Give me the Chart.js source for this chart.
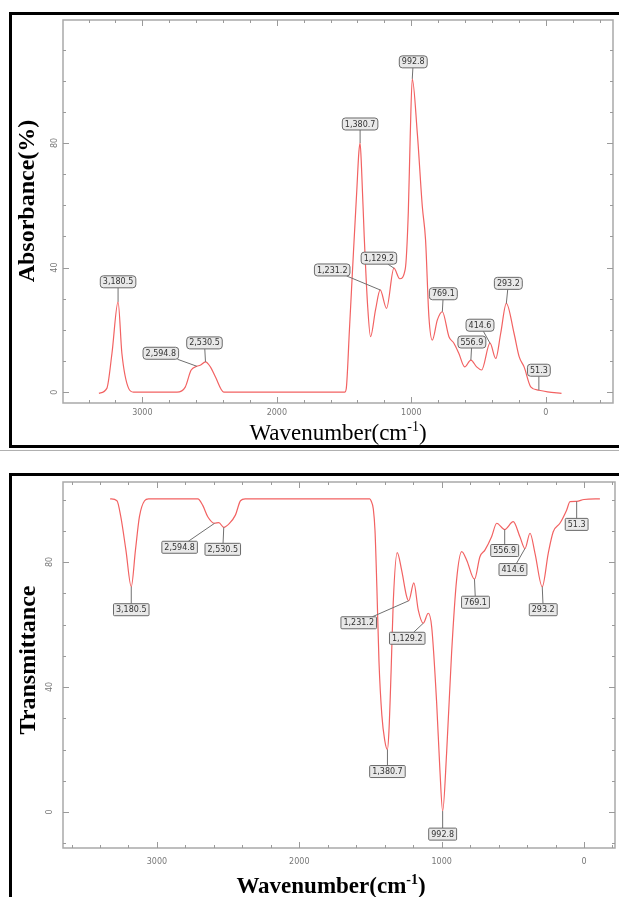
<!DOCTYPE html>
<html>
<head>
<meta charset="utf-8">
<script src="https://cdn.jsdelivr.net/npm/chart.js@4.4.0/dist/chart.umd.min.js"></script>
<style>
  html, body { margin: 0; padding: 0; background: #fff; width: 619px; height: 897px; overflow: hidden; position: relative; }
  .panel { position: absolute; border: 3px solid #000; box-sizing: content-box; }
  #topPanel { left: 9px; top: 12px; width: 640px; height: 430px; }
  #botPanel { left: 9px; top: 473px; width: 640px; height: 440px; }
  #sep { position: absolute; left: 0; top: 450px; width: 619px; height: 1px; background: #b0b0b0; }
  canvas { position: absolute; }
  #absChart { left: 12px; top: 15px; }
  #transChart { left: 12px; top: 476px; }
</style>
</head>
<body>
<div id="topPanel" class="panel"></div>
<div id="sep"></div>
<div id="botPanel" class="panel"></div>
<canvas id="absChart" width="607" height="430"></canvas>
<canvas id="transChart" width="607" height="421"></canvas>
<script>
// tick labels
const xTickValues = [3000, 2000, 1000, 0];
const yTickValues = [0, 40, 80];

// absorbance spectrum (wavenumber cm-1, %)
const absWavenumber = [3323, 3264, 3226, 3180.5, 3152, 3102, 3066, 2742, 2681, 2638, 2594.8, 2570,
  2530.5, 2494, 2457, 2395, 1495, 1484, 1460, 1430, 1405, 1390, 1380.7, 1370, 1350, 1325, 1303,
  1266, 1231.2, 1184, 1129.2, 1086, 1045, 1022, 1008, 992.8, 955, 918, 894, 869, 844, 806, 769.1,
  720, 683, 646, 603, 556.9, 514, 477, 414.6, 372, 335, 293.2, 236, 198, 161, 112, 51.3, -13, -117];
const absValue = [-0.4, 1.2, 12.4, 29.0, 12.4, 1.2, 0, 0, 1.6, 7.0, 8.3, 8.6,
  9.7, 8.1, 4.9, 0, 0, 1, 20, 45, 65, 77, 80, 72, 50, 28, 17.8,
  26.4, 32.8, 26.9, 39.8, 36.4, 39.5, 58, 82, 100.6, 83, 59.6, 48.9, 24.2, 16.7, 23.2, 25.8,
  17.8, 15.7, 12.4, 8.1, 10.3, 8.1, 7.1, 15.7, 10.8, 18.9, 28.5, 18.9, 11.4, 8.1, 1.7, 0.6, 0.1, -0.4];

// transmittance spectrum
const transWavenumber = [3329, 3281, 3254, 3218, 3180.5, 3151, 3123, 3087, 3059, 2713, 2679, 2643,
  2594.8, 2565, 2530.5, 2490, 2449, 2413, 2380, 1505, 1495, 1480, 1468, 1455, 1440, 1420, 1400,
  1380.7, 1370, 1355, 1340, 1312, 1281, 1246, 1231.2, 1195, 1164, 1129.2, 1094, 1070, 1035, 1012,
  992.8, 965, 930, 895, 859, 824, 769.1, 731, 696, 649, 613, 556.9, 497, 450, 414.6, 379, 344,
  293.2, 251, 216, 169, 122, 98, 51.3, 0, -112];
const transValue = [100.2, 99.6, 94.5, 83.8, 72.1, 83.8, 94.5, 99.6, 100.2, 100.2, 98.2, 94.5,
  92.4, 92.6, 91.1, 92.4, 95.0, 99.6, 100.2, 100.2, 99.5, 97, 90, 72, 48, 31, 23,
  20, 26, 45, 67, 83, 77.4, 69, 67.6, 73.3, 64.6, 60.4, 63.6, 59.3, 35, 13.4,
  0.3, 18.9, 50.9, 74.2, 83.3, 80.6, 74.5, 81.7, 83.8, 88.1, 92.4, 90.4, 92.9, 88.1, 84.3, 89.2, 82.8,
  72.1, 82.8, 89.7, 92.4, 96.6, 99.3, 99.4, 100, 100.2];

// peak labels
const peakWavenumbers = [3180.5, 2594.8, 2530.5, 1380.7, 1231.2, 1129.2, 992.8, 769.1, 556.9, 414.6, 293.2, 51.3];
const peakText = ['3,180.5', '2,594.8', '2,530.5', '1,380.7', '1,231.2', '1,129.2', '992.8', '769.1', '556.9', '414.6', '293.2', '51.3'];

// label box offsets from the peak, in pixels
const absLabelOffsets = [[0, -20], [-36, -13], [-1, -19], [0, -19], [-48, -20], [-15, -10],
  [1, -17], [1, -18], [1, -18], [-10, -18], [2, -20], [0, -20]];
const transLabelOffsets = [[0, 23], [-35, 24], [-1, 22], [0, 22], [-50, 22], [-16, 15],
  [0, 23], [1, 23], [0, 21], [-12, 21], [1, 23], [0, 23]];

const LINE_RED = 'rgb(242, 98, 98)';

function drawXTitle(ctx, cx, base, size, bold) {
  const w = bold ? 'bold ' : '';
  const main = w + size + 'px "Liberation Serif"';
  const sup = w + Math.round(size * 0.6) + 'px "Liberation Serif"';
  ctx.font = main;
  const a = ctx.measureText('Wavenumber(cm').width;
  const c = ctx.measureText(')').width;
  ctx.font = sup;
  const b = ctx.measureText('-1').width;
  let x = cx - (a + b + c) / 2;
  ctx.fillStyle = '#000';
  ctx.textAlign = 'left';
  ctx.textBaseline = 'alphabetic';
  ctx.font = main;
  ctx.fillText('Wavenumber(cm', x, base);
  ctx.font = sup;
  ctx.fillText('-1', x + a, base - size * 0.38);
  ctx.font = main;
  ctx.fillText(')', x + a + b, base);
}

const irFrame = {
  id: 'irFrame',
  afterDraw(chart, args, o) {
    const { ctx, chartArea: a, scales: { x, y } } = chart;
    ctx.save();
    // plot frame
    ctx.strokeStyle = '#a9a9a9';
    ctx.lineWidth = 1.5;
    ctx.strokeRect(a.left, a.top, a.right - a.left, a.bottom - a.top);

    // inward ticks on all sides
    ctx.strokeStyle = '#9a9a9a';
    ctx.lineWidth = 1;
    ctx.beginPath();
    for (let w = Math.ceil(x.min / 200) * 200; w <= x.max; w += 200) {
      const px = Math.round(x.getPixelForValue(w)) + 0.5;
      const len = w % 1000 === 0 ? 6 : 3;
      ctx.moveTo(px, a.bottom); ctx.lineTo(px, a.bottom - len);
      ctx.moveTo(px, a.top); ctx.lineTo(px, a.top + len);
    }
    for (let v = Math.ceil(y.min / 10) * 10; v <= y.max; v += 10) {
      const py = Math.round(y.getPixelForValue(v)) + 0.5;
      const len = v % 40 === 0 ? 6 : 3;
      ctx.moveTo(a.left, py); ctx.lineTo(a.left + len, py);
      ctx.moveTo(a.right, py); ctx.lineTo(a.right - len, py);
    }
    ctx.stroke();

    // rotated y tick labels
    ctx.fillStyle = '#777';
    ctx.font = '8px "DejaVu Sans"';
    ctx.textAlign = 'center';
    ctx.textBaseline = 'middle';
    yTickValues.forEach(v => {
      const py = y.getPixelForValue(v);
      ctx.save();
      ctx.translate(o.yLabelX, py);
      ctx.rotate(-Math.PI / 2);
      ctx.fillText(String(v), 0, 0);
      ctx.restore();
    });

    // y title
    ctx.save();
    ctx.translate(o.yTitleX, o.yTitleY);
    ctx.rotate(-Math.PI / 2);
    ctx.fillStyle = '#000';
    ctx.font = 'bold 24px "Liberation Serif"';
    ctx.textAlign = 'center';
    ctx.textBaseline = 'middle';
    ctx.fillText(o.yTitle, 0, 0);
    ctx.restore();

    // x title
    drawXTitle(ctx, o.xTitleX, o.xTitleBase, 23, o.xTitleBold);

    // peak labels
    const ws = chart.data.datasets[0].data;
    ctx.font = '8px "DejaVu Sans"';
    peakWavenumbers.forEach((w, i) => {
      const pt = ws.find(p => p.x === w);
      if (!pt) return;
      const tx = x.getPixelForValue(pt.x);
      const ty = y.getPixelForValue(pt.y);
      const [dx, dy] = o.offsets[i];
      const bx = tx + dx, by = ty + dy;
      const hw = ctx.measureText(peakText[i]).width / 2 + 2.5;
      const hh = 6;
      // leader
      const vx = tx - bx, vy = ty - by;
      const t = Math.min(vx ? hw / Math.abs(vx) : Infinity, vy ? hh / Math.abs(vy) : Infinity);
      ctx.strokeStyle = '#707070';
      ctx.lineWidth = 1;
      ctx.beginPath();
      ctx.moveTo(bx + vx * t, by + vy * t);
      ctx.lineTo(tx, ty);
      ctx.stroke();
      // box
      ctx.beginPath();
      ctx.roundRect(bx - hw, by - hh, hw * 2, hh * 2, o.radius);
      ctx.fillStyle = '#e9e9e9';
      ctx.fill();
      ctx.strokeStyle = '#6a6a6a';
      ctx.stroke();
      ctx.fillStyle = '#333';
      ctx.textAlign = 'center';
      ctx.textBaseline = 'middle';
      ctx.fillText(peakText[i], bx, by + 0.5);
    });
    ctx.restore();
  }
};

function makeChart(id, wn, vals, cfg) {
  return new Chart(document.getElementById(id), {
    type: 'line',
    data: {
      datasets: [{
        data: wn.map((w, i) => ({ x: w, y: vals[i] })),
        borderColor: LINE_RED,
        borderWidth: 1.2,
        pointRadius: 0,
        fill: false,
        cubicInterpolationMode: 'monotone'
      }]
    },
    options: {
      responsive: false,
      animation: false,
      events: [],
      layout: { padding: cfg.padding },
      plugins: {
        legend: { display: false },
        tooltip: { enabled: false },
        irFrame: cfg.frame
      },
      scales: {
        x: {
          type: 'linear',
          reverse: true,
          min: cfg.xMin,
          max: cfg.xMax,
          grid: { display: false, drawTicks: false },
          border: { display: false },
          ticks: {
            color: '#777',
            font: { size: 8, family: 'DejaVu Sans' },
            padding: cfg.xTickPad,
            maxRotation: 0,
            callback: v => String(v)
          },
          afterBuildTicks: s => { s.ticks = xTickValues.map(v => ({ value: v })); },
          afterFit: s => { s.height = cfg.xHeight; }
        },
        y: {
          type: 'linear',
          min: cfg.yMin,
          max: cfg.yMax,
          grid: { display: false, drawTicks: false },
          border: { display: false },
          ticks: { display: false },
          afterFit: s => { s.width = 51; }
        }
      }
    },
    plugins: [irFrame]
  });
}

makeChart('absChart', absWavenumber, absValue, {
  padding: { top: 5, right: 6, left: 0, bottom: 0 },
  xMin: -500, xMax: 3590, yMin: -3.5, yMax: 119.5,
  xTickPad: 5, xHeight: 42,
  frame: {
    yTitle: 'Absorbance(%)', yTitleX: 16, yTitleY: 186, yLabelX: 43,
    xTitleX: 326, xTitleBase: 425, xTitleBold: false,
    offsets: absLabelOffsets, radius: 3
  }
});

makeChart('transChart', transWavenumber, transValue, {
  padding: { top: 6, right: 4, left: 0, bottom: 0 },
  xMin: -218, xMax: 3660, yMin: -11.5, yMax: 105.6,
  xTickPad: 9, xHeight: 49,
  frame: {
    yTitle: 'Transmittance', yTitleX: 17, yTitleY: 184, yLabelX: 38,
    xTitleX: 319, xTitleBase: 417, xTitleBold: true,
    offsets: transLabelOffsets, radius: 1
  }
});
</script>
</body>
</html>
